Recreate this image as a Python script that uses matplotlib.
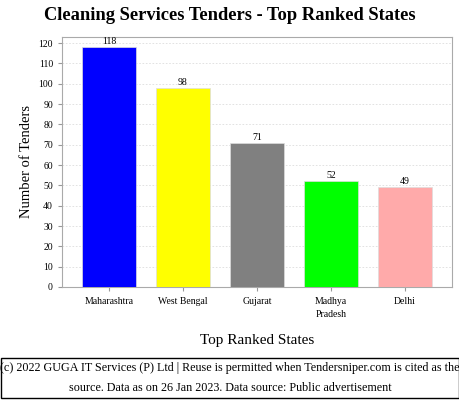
import matplotlib
matplotlib.use('Agg')
import matplotlib.pyplot as plt
from matplotlib.patches import Rectangle

states = ['Maharashtra', 'West Bengal', 'Gujarat', 'Madhya\nPradesh', 'Delhi']
tenders = [118, 98, 71, 52, 49]
colors = ['#0000ff', '#ffff00', '#808080', '#00ff00', '#ffaaaa']

plt.rcParams['font.family'] = ['Liberation Serif', 'DejaVu Serif']

fig = plt.figure(figsize=(4.6, 4.0), dpi=100)
ax = fig.add_axes([62/460, 1-287/400, 390/460, 250/400])

x = list(range(len(states)))
ax.bar(x, tenders, width=0.73, color=colors, edgecolor='#dddddd', linewidth=0.5, zorder=3)
for xi, v in zip(x, tenders):
    ax.text(xi, v + 0.5, str(v), ha='center', va='bottom', fontsize=7)

ax.set_xlim(-0.635, 4.635)
ax.set_ylim(0, 123)
ax.set_yticks(range(0, 121, 10))
ax.set_xticks(x)
ax.set_xticklabels(states, fontsize=7, linespacing=1.6)
ax.tick_params(axis='y', labelsize=7, length=3, color='#999999')
ax.tick_params(axis='x', length=3, color='#999999', pad=4)
ax.grid(axis='y', linestyle=(0, (2, 2)), color='#dddddd', linewidth=0.6, zorder=0)
for s in ax.spines.values():
    s.set_color('#aaaaaa')

ax.set_ylabel('Number of Tenders', fontsize=10.5)
ax.set_xlabel('Top Ranked States', fontsize=11, labelpad=11)
fig.text(0.5, 0.96, 'Cleaning Services Tenders - Top Ranked States',
         ha='center', va='center', fontsize=13.3, fontweight='bold')

fig.patches.append(Rectangle((1/460, 2/400), 458/460, 40/400, transform=fig.transFigure,
                             fill=False, edgecolor='black', linewidth=1))
fig.text(0.5, 1 - 368/400, '(c) 2022 GUGA IT Services (P) Ltd | Reuse is permitted when Tendersniper.com is cited as the',
         ha='center', va='center', fontsize=8.7)
fig.text(0.5, 1 - 388/400, 'source. Data as on 26 Jan 2023. Data source: Public advertisement',
         ha='center', va='center', fontsize=8.7)

fig.savefig('out.png', dpi=100)
